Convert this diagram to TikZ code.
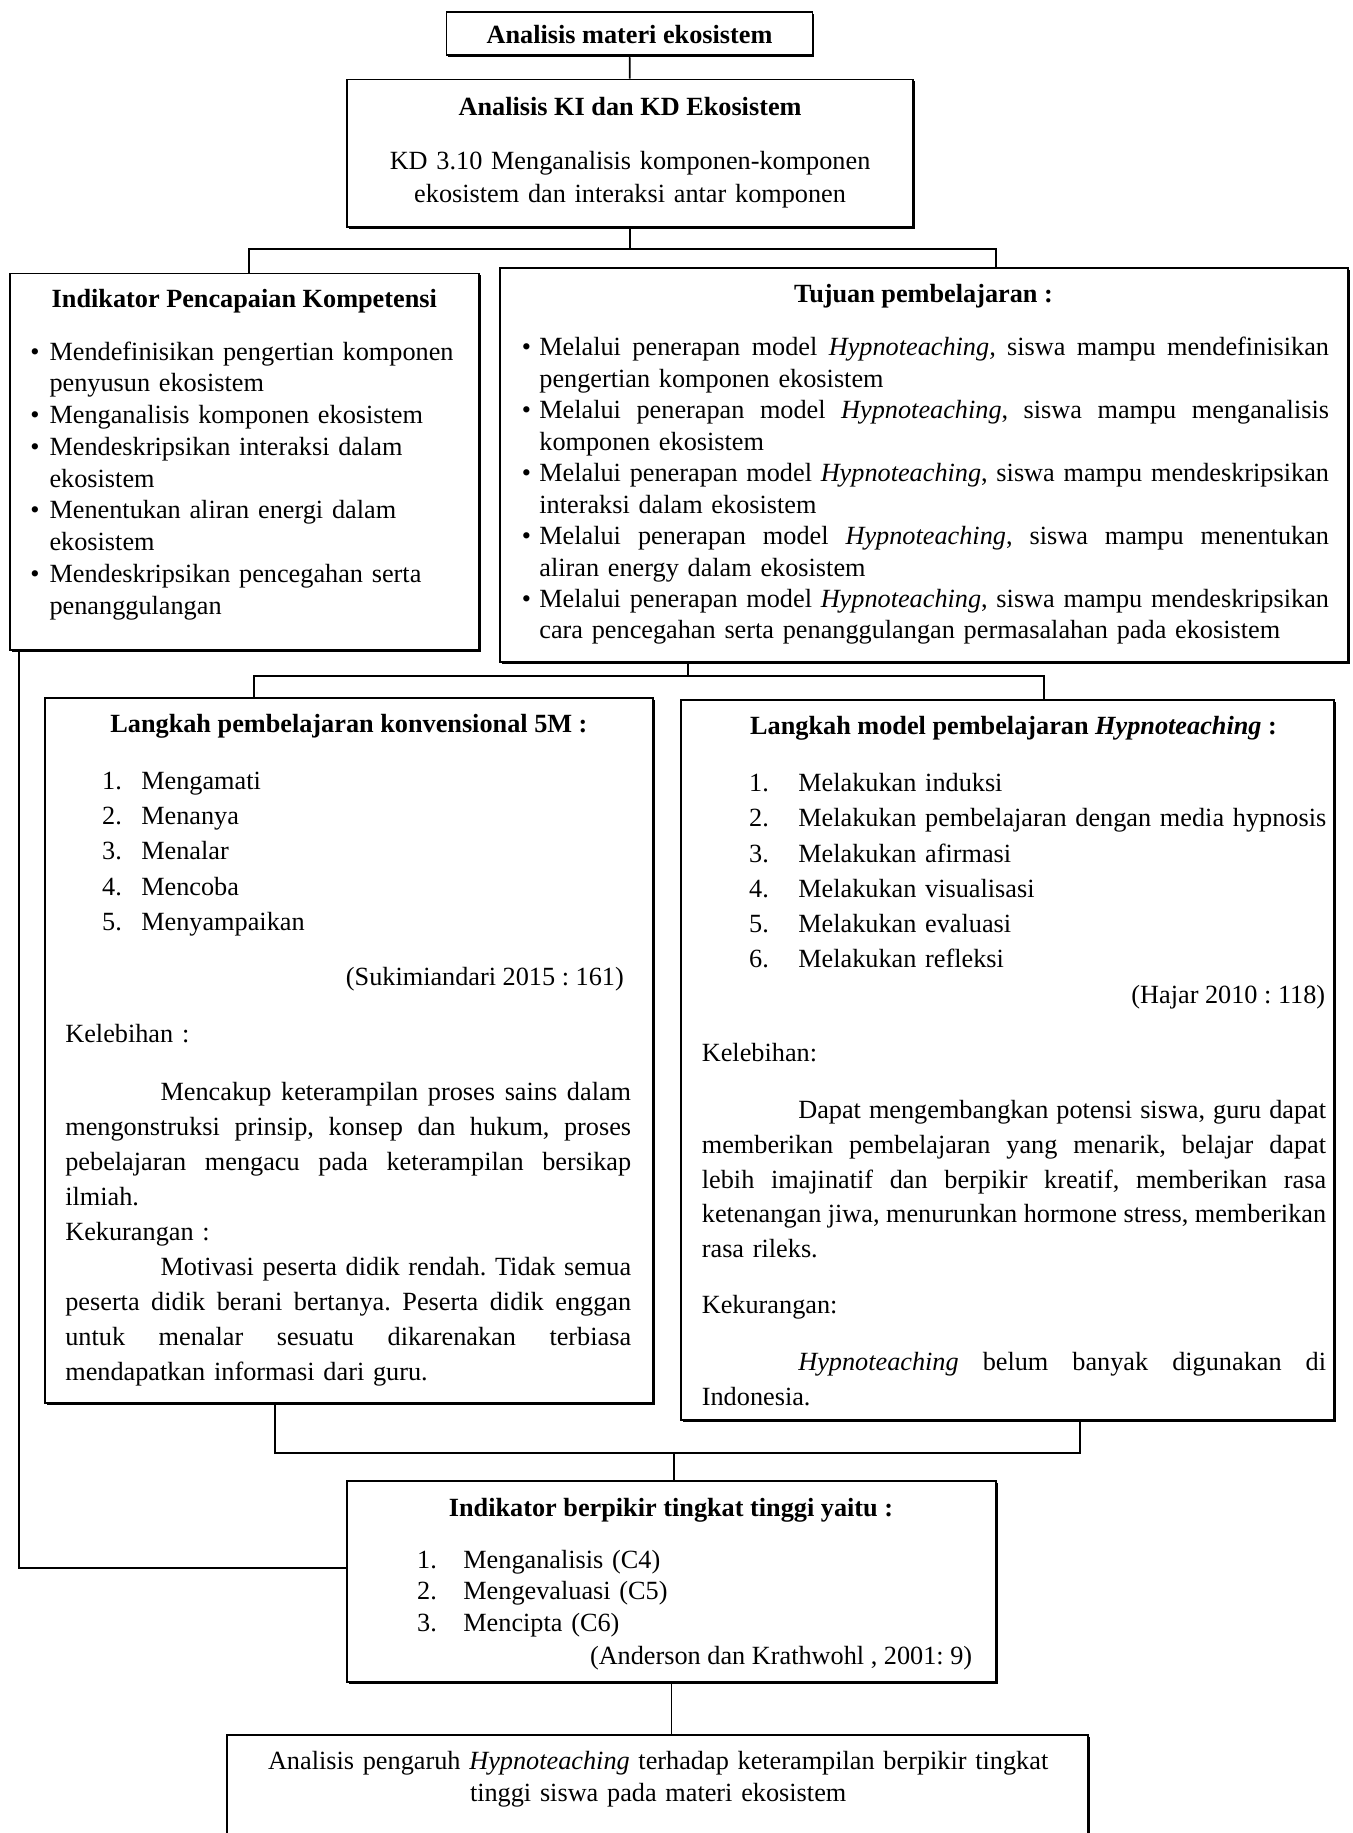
\documentclass[tikz,border=0pt]{standalone}
\usepackage{fontspec}
\setmainfont{Liberation Serif}
\usepackage{tikz}
\usetikzlibrary{shadows}
\newlength{\px}
\setlength{\px}{0.5075pt}
\newcommand{\dotitem}[1]{\makebox[#1\px][l]{\textbullet}}
\newcommand{\numitem}[2]{\makebox[#1\px][l]{#2}}
\newcommand{\fullline}[2]{{\spaceskip=0.25em plus 1em minus 0.12em\makebox[#1\px][s]{#2}}}
\AtBeginDocument{\frenchspacing}

\begin{document}
\begin{tikzpicture}[
  x=0.5075pt, y=-0.5075pt,
  font=\fontsize{11.4}{13.8}\selectfont,
  box/.style={draw, line width=0.75pt, fill=white, inner sep=0pt, drop shadow={shadow xshift=0.8pt, shadow yshift=-0.8pt, opacity=1, fill=black}},
  link/.style={line width=0.75pt},
  heading/.style={inner sep=0pt, anchor=base, font=\fontsize{11.4}{13.8}\selectfont\bfseries},
  body/.style={inner sep=0pt, anchor=base west, align=left, text width=#1\px},
  pitch/.style={font=\fontsize{11.4}{#1}\selectfont}
]
\useasboundingbox (0,0) rectangle (1157,1568);

% Boxes
\node[box, minimum width=313\px, minimum height=37\px] (materi) at (538.5,28.5) {};
\node[box, minimum width=484\px, minimum height=126\px] (kikd) at (539,131) {};
\node[box, minimum width=401\px, minimum height=322\px] (indik) at (209,395) {};
\node[box, minimum width=725\px, minimum height=337\px] (tujuan) at (790.5,397.5) {};
\node[box, minimum width=520\px, minimum height=603\px] (konv) at (298.5,898.5) {};
\node[box, minimum width=558.5\px, minimum height=616\px] (hypno) at (862,906.5) {};
\node[box, minimum width=555.5\px, minimum height=172\px] (hots) at (574.5,1353) {};
\node[box, minimum width=737\px, minimum height=132\px] (analisis) at (562.5,1550) {};

% Junctions
\coordinate (upL) at (213,213);
\coordinate (upR) at (852,213);
\coordinate (midC) at (588.5,578.5);
\coordinate (midL) at (217.5,578.5);
\coordinate (midR) at (893,578.5);
\coordinate (lowL) at (235,1243);
\coordinate (lowR) at (924,1243);
\coordinate (lowC) at (576.5,1243);
\coordinate (side) at (16,1341);

% Connectors
\draw[link] (materi) -- (kikd);
\draw[link] (kikd.south) -- (kikd.south |- upL);
\draw[link] (indik.north -| upL) -- (upL) -- (upR) -- (tujuan.north -| upR);
\draw[link] (tujuan.south -| midC) -- (midC);
\draw[link] (konv.north -| midL) -- (midL) -- (midR) -- (hypno.north -| midR);
\draw[link] (konv.south -| lowL) -- (lowL) -- (lowR) -- (hypno.south -| lowR);
\draw[link] (hots.north -| lowC) -- (lowC);
\draw[link] (indik.south -| side) -- (side) -- (side -| hots.west);
\draw[link] (hots.south) -- (hots.south |- analisis.north);

% Analisis materi
\node[heading] (materiT) at (538.5,37) {Analisis materi ekosistem};

% Analisis KI dan KD
\node[heading] (kikdT) at (539,98.5) {Analisis KI dan KD Ekosistem};
\node[body=460, align=center, anchor=base, pitch=14.2pt] (kikdL) at (539,145) {KD 3.10 Menganalisis komponen-komponen\\ekosistem dan interaksi antar komponen};

% Indikator pencapaian
\node[heading] (indikT) at (209,263) {Indikator Pencapaian Kompetensi};
\node[body=380, pitch=13.8pt] (indikL) at (25.5,308) {\dotitem{16.5}Mendefinisikan pengertian komponen\\
\hspace*{16.5\px}penyusun ekosistem\\
\dotitem{16.5}Menganalisis komponen ekosistem\\
\dotitem{16.5}Mendeskripsikan interaksi dalam\\
\hspace*{16.5\px}ekosistem\\
\dotitem{16.5}Menentukan aliran energi dalam\\
\hspace*{16.5\px}ekosistem\\
\dotitem{16.5}Mendeskripsikan pencegahan serta\\
\hspace*{16.5\px}penanggulangan};

% Tujuan pembelajaran
\node[heading] (tujuanT) at (790,259) {Tujuan pembelajaran :};
\node[body=700, pitch=13.65pt] (tujuanL) at (446,304.5) {\dotitem{15}\fullline{675.5}{Melalui penerapan model \textit{Hypnoteaching,} siswa mampu mendefinisikan}\\
\hspace*{15\px}pengertian komponen ekosistem\\
\dotitem{15}\fullline{675.5}{Melalui penerapan model \textit{Hypnoteaching}, siswa mampu menganalisis}\\
\hspace*{15\px}komponen ekosistem\\
\dotitem{15}\fullline{675.5}{Melalui penerapan model \textit{Hypnoteaching}, siswa mampu mendeskripsikan}\\
\hspace*{15\px}interaksi dalam ekosistem\\
\dotitem{15}\fullline{675.5}{Melalui penerapan model \textit{Hypnoteaching}, siswa mampu menentukan}\\
\hspace*{15\px}aliran energy dalam ekosistem\\
\dotitem{15}\fullline{675.5}{Melalui penerapan model \textit{Hypnoteaching}, siswa mampu mendeskripsikan}\\
\hspace*{15\px}cara pencegahan serta penanggulangan permasalahan pada ekosistem};

% Langkah konvensional 5M
\node[heading] (konvT) at (298.5,627) {Langkah pembelajaran konvensional 5M :};
\node[body=400, pitch=15.33pt] (konvL) at (87,675) {\numitem{33.5}{1.}Mengamati\\
\numitem{33.5}{2.}Menanya\\
\numitem{33.5}{3.}Menalar\\
\numitem{33.5}{4.}Mencoba\\
\numitem{33.5}{5.}Menyampaikan};
\node[inner sep=0pt, anchor=base east] (konvS) at (534,843) {(Sukimiandari 2015 : 161)};
\node[body=490, pitch=15.2pt] (konvN) at (55.5,892) {Kelebihan :\\[19.5\px]
\fullline{484}{\hspace*{81.5\px}Mencakup keterampilan proses sains dalam}\\
\fullline{484}{mengonstruksi prinsip, konsep dan hukum, proses}\\
\fullline{484}{pebelajaran mengacu pada keterampilan bersikap}\\
ilmiah.\\
Kekurangan :\\
\fullline{484}{\hspace*{81.5\px}Motivasi peserta didik rendah. Tidak semua}\\
\fullline{484}{peserta didik berani bertanya. Peserta didik enggan}\\
\fullline{484}{untuk menalar sesuatu dikarenakan terbiasa}\\
mendapatkan informasi dari guru.};

% Langkah Hypnoteaching
\node[heading] (hypnoT) at (867,628) {Langkah model pembelajaran \textit{Hypnoteaching} :};
\node[body=530, pitch=15.33pt] (hypnoL) at (640.5,677) {\numitem{42}{1.}Melakukan induksi\\
\numitem{42}{2.}Melakukan pembelajaran dengan media hypnosis\\
\numitem{42}{3.}Melakukan afirmasi\\
\numitem{42}{4.}Melakukan visualisasi\\
\numitem{42}{5.}Melakukan evaluasi\\
\numitem{42}{6.}Melakukan refleksi};
\node[inner sep=0pt, anchor=base east] (hypnoS) at (1134,858.6) {(Hajar 2010 : 118)};
\node[body=540, pitch=15.17pt] (hypnoN) at (600,908) {Kelebihan:\\[18.6\px]
\fullline{534}{\hspace*{82.5\px}Dapat mengembangkan potensi siswa, guru dapat}\\
\fullline{534}{memberikan pembelajaran yang menarik, belajar dapat}\\
\fullline{534}{lebih imajinatif dan berpikir kreatif, memberikan rasa}\\
\fullline{534}{ketenangan jiwa, menurunkan hormone stress, memberikan}\\
rasa rileks.\\[17.7\px]
Kekurangan:\\[18.8\px]
\fullline{534}{\hspace*{82.5\px}\textit{Hypnoteaching} belum banyak digunakan di}\\
Indonesia.};

% Berpikir tingkat tinggi
\node[heading] (hotsT) at (574,1297) {Indikator berpikir tingkat tinggi yaitu :};
\node[body=400, pitch=13.7pt] (hotsL) at (356.5,1341.5) {\numitem{39.5}{1.}Menganalisis (C4)\\
\numitem{39.5}{2.}Mengevaluasi (C5)\\
\numitem{39.5}{3.}Mencipta (C6)};
\node[inner sep=0pt, anchor=base east] (hotsS) at (832,1424) {(Anderson dan Krathwohl , 2001: 9)};

% Analisis pengaruh
\node[body=720, align=center, anchor=base, pitch=13.7pt] (analisisT) at (563,1514) {Analisis pengaruh \textit{Hypnoteaching} terhadap keterampilan berpikir tingkat\\tinggi siswa pada materi ekosistem};

\end{tikzpicture}
\end{document}
